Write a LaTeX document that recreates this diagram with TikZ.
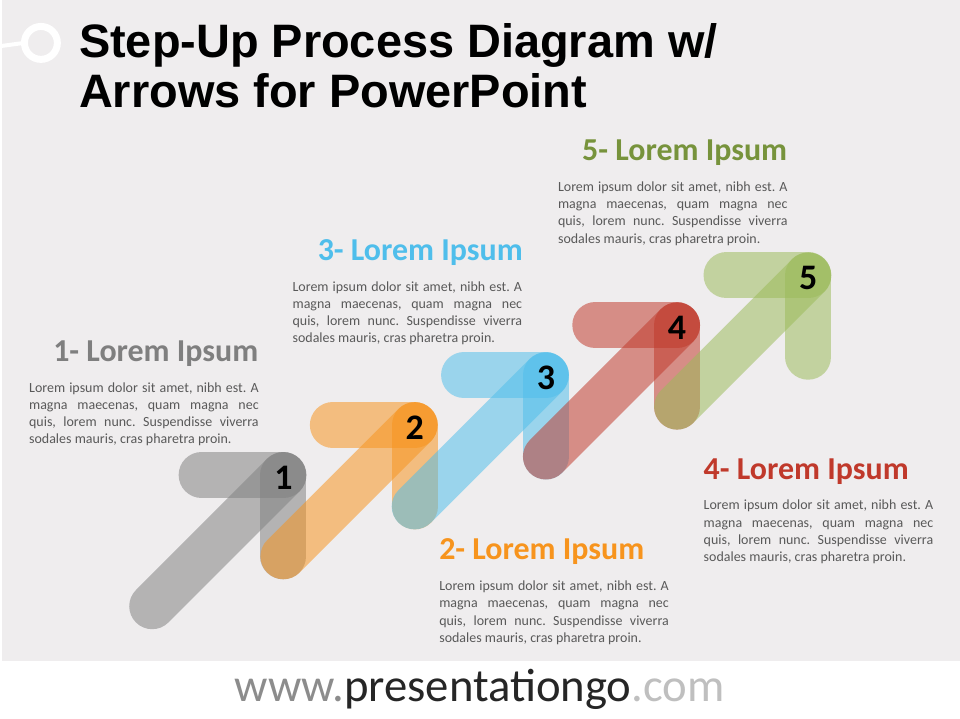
\documentclass[tikz,border=0pt]{standalone}
\usepackage{fontspec}
\setmainfont{Carlito}
\newfontfamily\titlefont{Liberation Sans}
\usepackage{tikz}
\usetikzlibrary{positioning}
\frenchspacing

\definecolor{bggray}{HTML}{EFEDEE}
\definecolor{bodygray}{HTML}{595959}
\definecolor{stepgray}{HTML}{808080}
\definecolor{steporange}{HTML}{F7941D}
\definecolor{stepblue}{HTML}{4FBEEB}
\definecolor{stepred}{HTML}{C0392B}
\definecolor{stepgreen}{HTML}{9BBB59}
\definecolor{headgray}{HTML}{7F7F7F}
\definecolor{headgreen}{HTML}{77933C}

\begin{document}
\begin{tikzpicture}[x=1pt, y=-1pt,
	bar/.style={line width=46pt, line cap=round, draw opacity=0.53},
	num/.style={inner sep=0, font=\bfseries\fontsize{36}{36}\selectfont},
	head/.style={inner sep=0, font=\bfseries\fontsize{32}{33}\selectfont},
	body/.style={inner sep=0, text width=230pt, align=justify, text=bodygray, font=\fontsize{14}{17.2}\selectfont}]
	\fill[bggray] (0,0) rectangle (960,720);
	\fill[white] (0,662) rectangle (960,720);
	% title
	\draw[white, line width=4pt] (0,46) -- (22,43);
	\draw[white, line width=7pt] (39,43) circle (16.5);
	\node[anchor=base west, inner sep=0, font=\titlefont\bfseries\fontsize{47}{50}\selectfont] (title1) at (77,58) {Step-Up Process Diagram w/};
	\node[anchor=base west, inner sep=0, font=\titlefont\bfseries\fontsize{47}{50}\selectfont] (title2) at (77,108) {Arrows for PowerPoint};
	% arrows
	\coordinate (c1) at (282,476);
	\draw[bar, stepgray] (c1) -- ++(-82,0);
	\draw[bar, stepgray] (c1) -- ++(0,81.5);
	\draw[bar, stepgray] (c1) -- ++(-131.5,131.5);
	\node[num] (n1) at ([yshift=-3]c1) {1};
	\coordinate (c2) at (413.5,426);
	\draw[bar, steporange] (c2) -- ++(-82,0);
	\draw[bar, steporange] (c2) -- ++(0,81.5);
	\draw[bar, steporange] (c2) -- ++(-131.5,131.5);
	\node[num] (n2) at ([yshift=-3]c2) {2};
	\coordinate (c3) at (545,376);
	\draw[bar, stepblue] (c3) -- ++(-82,0);
	\draw[bar, stepblue] (c3) -- ++(0,81.5);
	\draw[bar, stepblue] (c3) -- ++(-131.5,131.5);
	\node[num] (n3) at ([yshift=-3]c3) {3};
	\coordinate (c4) at (676.5,326);
	\draw[bar, stepred] (c4) -- ++(-82,0);
	\draw[bar, stepred] (c4) -- ++(0,81.5);
	\draw[bar, stepred] (c4) -- ++(-131.5,131.5);
	\node[num] (n4) at ([yshift=-3]c4) {4};
	\coordinate (c5) at (808,276);
	\draw[bar, stepgreen] (c5) -- ++(-82,0);
	\draw[bar, stepgreen] (c5) -- ++(0,81.5);
	\draw[bar, stepgreen] (c5) -- ++(-131.5,131.5);
	\node[num] (n5) at ([yshift=-3]c5) {5};
	% texts
	\node[head, anchor=base east, text=headgray] (head1) at (257,362) {1- Lorem Ipsum};
	\node[body, anchor=base west] (txt1) at (27,393) {Lorem ipsum dolor sit amet, nibh est. A\linebreak magna maecenas, quam magna nec\linebreak quis, lorem nunc. Suspendisse viverra\linebreak sodales mauris, cras pharetra proin.};
	\node[head, anchor=base west, text=steporange] (head2) at (438,561) {2- Lorem Ipsum};
	\node[body, anchor=base west] (txt2) at (438,592) {Lorem ipsum dolor sit amet, nibh est. A\linebreak magna maecenas, quam magna nec\linebreak quis, lorem nunc. Suspendisse viverra\linebreak sodales mauris, cras pharetra proin.};
	\node[head, anchor=base east, text=stepblue] (head3) at (522,261) {3- Lorem Ipsum};
	\node[body, anchor=base west] (txt3) at (291,292) {Lorem ipsum dolor sit amet, nibh est. A\linebreak magna maecenas, quam magna nec\linebreak quis, lorem nunc. Suspendisse viverra\linebreak sodales mauris, cras pharetra proin.};
	\node[head, anchor=base west, text=stepred] (head4) at (703,480) {4- Lorem Ipsum};
	\node[body, anchor=base west] (txt4) at (703,511) {Lorem ipsum dolor sit amet, nibh est. A\linebreak magna maecenas, quam magna nec\linebreak quis, lorem nunc. Suspendisse viverra\linebreak sodales mauris, cras pharetra proin.};
	\node[head, anchor=base east, text=headgreen] (head5) at (787,161) {5- Lorem Ipsum};
	\node[body, anchor=base west] (txt5) at (557,192) {Lorem ipsum dolor sit amet, nibh est. A\linebreak magna maecenas, quam magna nec\linebreak quis, lorem nunc. Suspendisse viverra\linebreak sodales mauris, cras pharetra proin.};
	% footer
	\node[anchor=base west, inner sep=0, font=\fontsize{46.8}{47}\selectfont] (site) at (233,703) {\textcolor[HTML]{8C8C8C}{www.}\textcolor[HTML]{262626}{presentationgo}\textcolor[HTML]{BFBFBF}{.com}};
\end{tikzpicture}
\end{document}
